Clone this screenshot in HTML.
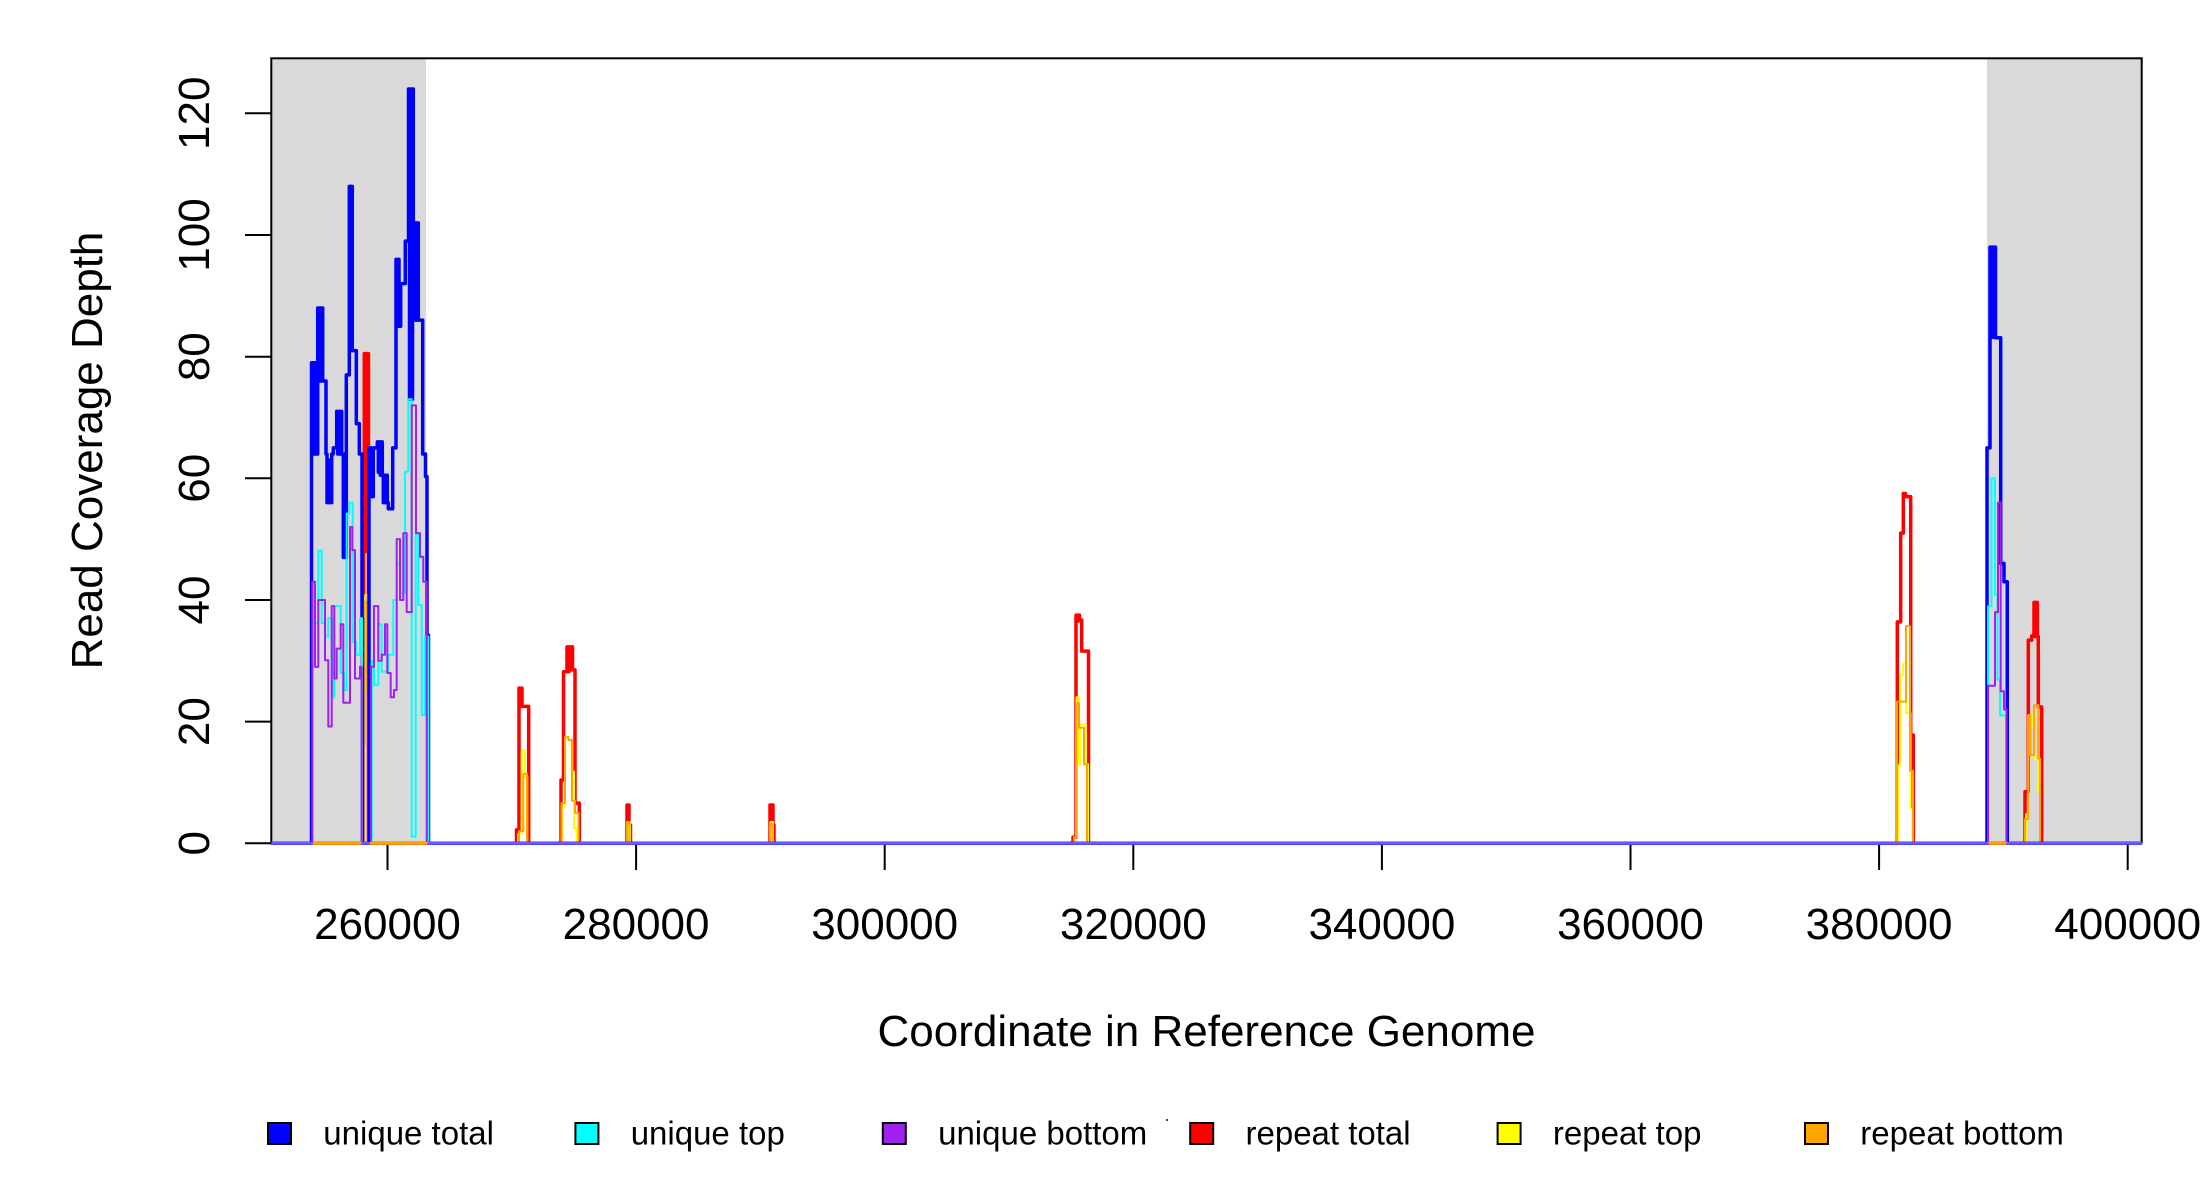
<!DOCTYPE html>
<html>
<head>
<meta charset="utf-8">
<style>
html,body{margin:0;padding:0;background:#fff;}
svg{display:block;}
text{font-family:"Liberation Sans",Arial,sans-serif;fill:#000;}
</style>
</head>
<body>
<svg width="2200" height="1200" viewBox="0 0 2200 1200" xmlns="http://www.w3.org/2000/svg">
<rect x="0" y="0" width="2200" height="1200" fill="#fff"/>
<!-- shaded regions -->
<rect x="271.3" y="58.3" width="154.7" height="784.4" fill="#d9d9d9"/>
<rect x="1987" y="58.3" width="154.7" height="784.4" fill="#d9d9d9"/>

<!-- plot box -->
<rect x="271.3" y="58.3" width="1870.4" height="784.4" fill="none" stroke="#000" stroke-width="2"/>

<g transform="translate(0,843.3) scale(1,-6.083)" fill="none" stroke-linejoin="round" stroke-linecap="butt">
<!-- repeat total -->
<path vector-effect="non-scaling-stroke" stroke="#ff0000" stroke-width="3.5" d="M271 0 H363.5 V48 H364.3 V80.5 H365.3 V48 H366.3 V80.5 H367.3 V48 H367.8 V80.5 H368.5 V0 H516.5 V2.2 H519 V25.5 H520 V22.5 H521 V25.5 H522 V22.5 H528.7 V0 H561 V10.4 H563.5 V28.2 H567 V32.3 H568 V28.2 H569 V32.3 H570 V28.5 H571 V32.3 H572.5 V28.5 H575 V6.6 H579.3 V0 H627 V6.3 H629 V3 H630.5 V0 H770 V6.3 H773 V3 H774 V0 H1073 V1 H1076 V37.5 H1077 V36.5 H1078 V37.5 H1079.5 V36.7 H1081.7 V31.6 H1088.5 V0 H1897.3 V36.4 H1900.7 V51 H1903.3 V57.5 H1905.5 V57 H1910.7 V17.8 H1913.3 V0 H2025 V8.5 H2028.3 V33.4 H2031.7 V34.1 H2034 V39.6 H2035 V34 H2036 V39.6 H2037.3 V34 H2038.3 V22.4 H2041.7 V0 H2141.7"/>
<!-- repeat top -->
<path vector-effect="non-scaling-stroke" stroke="#ffff00" stroke-width="2" d="M271 0 H364.7 V17 H365.2 V40.8 H368 V17.3 H369 V0 H518 V1.5 H521.7 V15.3 H525 V10.9 H527.3 V0 H562.5 V6 H565 V17.5 H568.3 V16.9 H571.7 V11.8 H574 V2.5 H577 V0 H627.5 V3.5 H630 V0 H770.5 V3.5 H773 V0 H1075 V1 H1076.5 V24 H1079 V13 H1080 V19.5 H1086 V13 H1088 V0 H1898.5 V12.9 H1900.5 V27.6 H1903 V29.5 H1906 V21.4 H1910.5 V5.7 H1912.5 V0 H2026 V4.8 H2028.3 V21.1 H2031.7 V19.4 H2034 V13.9 H2038.3 V8.4 H2040 V0 H2141.7"/>
<!-- repeat bottom -->
<path vector-effect="non-scaling-stroke" stroke="#ffa500" stroke-width="2" d="M271 0 H364 V16.2 H364.7 V39.7 H367 V25 H368 V0 H519 V2 H523.3 V11.4 H527 V0 H561.5 V6.6 H565 V17.5 H568.3 V17 H572 V7 H575 V5 H578.5 V0 H627 V3.5 H629.5 V0 H770 V3 H772.5 V0 H1074 V1 H1076 V23 H1079 V19 H1084 V13 H1087 V0 H1897 V23.3 H1906 V35.7 H1910 V11.9 H1913 V0 H2025 V4 H2028.3 V21.1 H2030.5 V14.5 H2034 V22.7 H2038.3 V13.9 H2040 V0 H2141.7"/>
<!-- unique total -->
<path vector-effect="non-scaling-stroke" stroke="#0000ff" stroke-width="3.5" d="M271 0 H311.5 V79 H312.5 V64 H313.5 V79 H314.5 V64 H315.5 V79 H316.7 V64 H317.7 V88 H318.7 V76 H319.7 V88 H320.7 V76 H321.7 V88 H322.7 V76 H326 V64 H327 V56 H328 V63 H329 V56 H330 V63 H331 V56 H331.7 V64 H333.3 V65 H336.7 V71 H337.7 V64 H338.7 V71 H339.7 V64 H340.7 V71 H341.7 V64 H343.3 V47 H344.3 V64 H345.3 V47 H346.3 V77 H349.3 V108 H350.3 V81 H351.3 V108 H352.3 V81 H353.3 V81 H356.3 V69 H359.3 V64 H362 V37 H362.5 V0 H369 V65 H370 V57 H371 V65 H372 V57 H373.3 V65 H377.3 V66 H378.3 V61 H379.3 V66 H380.3 V60.5 H381.3 V66 H382.3 V60.5 H383.3 V56 H384.3 V60.5 H385.3 V56 H386.3 V60.5 H387.3 V56 H388.3 V55 H392.7 V65 H396 V96 H397 V85 H398 V96 H399 V85 H400.7 V92 H405.3 V99 H408.5 V124 H409.5 V73 H410.5 V124 H411.5 V73 H412.5 V124 H413.3 V102 H414.5 V86 H415.5 V102 H416.5 V86 H417.5 V102 H418.3 V86 H422.7 V64 H425.5 V60.3 H427 V34.2 H428.5 V0 H1987 V65 H1990 V98 H1991 V83.2 H1992 V98 H1993 V83.2 H1994 V98 H1995.5 V83.1 H2000.7 V46 H2004 V43 H2007.3 V0 H2141.7"/>
<!-- unique top -->
<path vector-effect="non-scaling-stroke" stroke="#00ffff" stroke-width="2" d="M271 0 H312.7 V36.2 H318.3 V48.1 H321.7 V36.2 H325 V34 H328.3 V37 H332.3 V24 H334.3 V39 H340.7 V28 H344 V25.2 H346.7 V54.2 H349.3 V56 H352.7 V33.1 H356 V31 H360 V37 H362 V0 H371.7 V30 H374 V26 H378.3 V36 H381.7 V28.2 H388.3 V31 H393.3 V40 H396.7 V46 H400 V41.1 H405 V61.1 H408.3 V73 H411.7 V1.1 H415.7 V51 H418.3 V39.2 H421.7 V21.1 H425 V34 H428.3 V0 H1988 V39 H1991.5 V60 H1995 V40.9 H1997.5 V26.9 H2000 V21 H2006 V0 H2141.7"/>
<!-- unique bottom -->
<path vector-effect="non-scaling-stroke" stroke="#a020f0" stroke-width="2" d="M271 0 H312.3 V43 H315 V29 H318.3 V40 H325 V30.1 H328.3 V19.2 H331.7 V39 H334.3 V27.1 H336.7 V32 H340.7 V36 H343.3 V23.1 H350 V52 H352.3 V48.2 H355 V27.1 H360 V29 H361.7 V0 H371 V29 H374 V39 H378.3 V30 H381.7 V31 H385 V36 H387.3 V28 H390.7 V24 H394 V25.2 H396.7 V50 H400 V40 H403.3 V51 H406.7 V38 H410 V38 H411.7 V72 H416 V51 H420 V47.1 H423.3 V43 H426.7 V0 H1988 V25.9 H1995 V38 H1998 V56 H2000.7 V25 H2004 V22 H2006.5 V0 H2141.7"/>
</g>

<!-- baseline overlay -->
<g stroke-width="3">
<line x1="271.3" y1="843.3" x2="2141.7" y2="843.3" stroke="#6a5aff"/>
<line x1="313" y1="843.3" x2="361.5" y2="843.3" stroke="#ffa500"/>
<line x1="370" y1="843.3" x2="427.5" y2="843.3" stroke="#ffa500"/>
<line x1="1988.5" y1="843.3" x2="2006.5" y2="843.3" stroke="#ffa500"/>
</g>

<!-- y axis ticks -->
<g stroke="#000" stroke-width="2">
<line x1="245" y1="843.3" x2="271.3" y2="843.3"/>
<line x1="245" y1="721.6" x2="271.3" y2="721.6"/>
<line x1="245" y1="600.0" x2="271.3" y2="600.0"/>
<line x1="245" y1="478.3" x2="271.3" y2="478.3"/>
<line x1="245" y1="356.7" x2="271.3" y2="356.7"/>
<line x1="245" y1="235.0" x2="271.3" y2="235.0"/>
<line x1="245" y1="113.3" x2="271.3" y2="113.3"/>
</g>
<!-- x axis ticks -->
<g stroke="#000" stroke-width="2">
<line x1="387.5" y1="845" x2="387.5" y2="870"/>
<line x1="636.1" y1="845" x2="636.1" y2="870"/>
<line x1="884.7" y1="845" x2="884.7" y2="870"/>
<line x1="1133.3" y1="845" x2="1133.3" y2="870"/>
<line x1="1381.9" y1="845" x2="1381.9" y2="870"/>
<line x1="1630.5" y1="845" x2="1630.5" y2="870"/>
<line x1="1879.1" y1="845" x2="1879.1" y2="870"/>
<line x1="2127.7" y1="845" x2="2127.7" y2="870"/>
</g>

<!-- x tick labels -->
<g font-size="44" text-anchor="middle">
<text x="387.5" y="939">260000</text>
<text x="636.1" y="939">280000</text>
<text x="884.7" y="939">300000</text>
<text x="1133.3" y="939">320000</text>
<text x="1381.9" y="939">340000</text>
<text x="1630.5" y="939">360000</text>
<text x="1879.1" y="939">380000</text>
<text x="2127.7" y="939">400000</text>
</g>

<!-- y tick labels -->
<g font-size="44" text-anchor="middle">
<text transform="translate(209,843.3) rotate(-90)">0</text>
<text transform="translate(209,721.6) rotate(-90)">20</text>
<text transform="translate(209,600.0) rotate(-90)">40</text>
<text transform="translate(209,478.3) rotate(-90)">60</text>
<text transform="translate(209,356.7) rotate(-90)">80</text>
<text transform="translate(209,235.0) rotate(-90)">100</text>
<text transform="translate(209,113.3) rotate(-90)">120</text>
</g>

<!-- axis titles -->
<text x="1206.5" y="1046" font-size="44" text-anchor="middle">Coordinate in Reference Genome</text>
<text transform="translate(102,450.5) rotate(-90)" font-size="44" text-anchor="middle">Read Coverage Depth</text>

<!-- legend -->
<g stroke="#000" stroke-width="2">
<rect x="268" y="1123" width="23" height="21" fill="#0000ff"/>
<rect x="575.4" y="1123" width="23" height="21" fill="#00ffff"/>
<rect x="882.8" y="1123" width="23" height="21" fill="#a020f0"/>
<rect x="1190.2" y="1123" width="23" height="21" fill="#ff0000"/>
<rect x="1497.6" y="1123" width="23" height="21" fill="#ffff00"/>
<rect x="1805" y="1123" width="23" height="21" fill="#ffa500"/>
</g>
<g font-size="33">
<text x="323.3" y="1144.5">unique total</text>
<text x="630.7" y="1144.5">unique top</text>
<text x="938.1" y="1144.5">unique bottom</text>
<text x="1245.5" y="1144.5">repeat total</text>
<text x="1552.9" y="1144.5">repeat top</text>
<text x="1860.3" y="1144.5">repeat bottom</text>
</g>
<rect x="1166" y="1119" width="2" height="2" fill="#444"/>
</svg>
</body>
</html>
